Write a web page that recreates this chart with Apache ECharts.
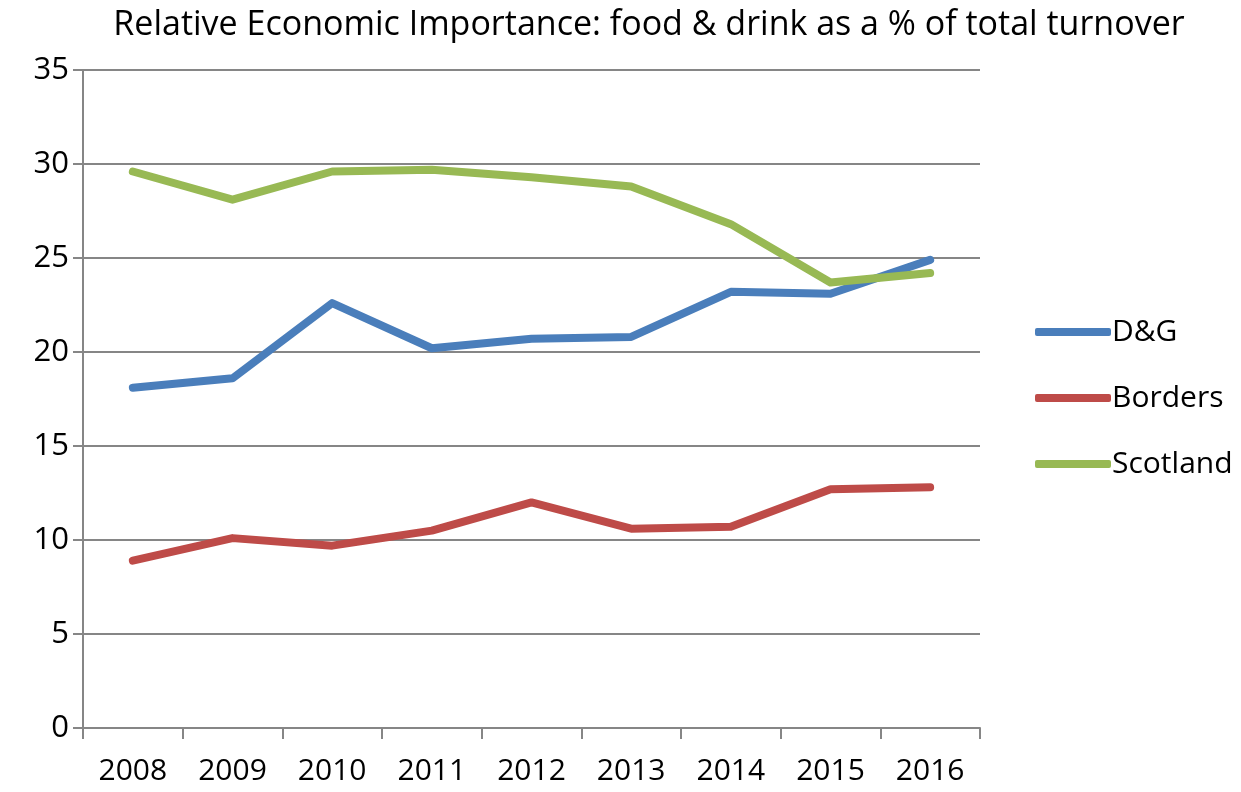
<!DOCTYPE html>
<html>
<head>
<meta charset="utf-8">
<script src="https://cdn.jsdelivr.net/npm/echarts@6/dist/echarts.min.js"></script>
<style>
  html, body { margin: 0; padding: 0; background: #fff; }
  #chart { width: 1241px; height: 792px; }
</style>
</head>
<body>
<div id="chart"></div>
<script>
var years = ["2008", "2009", "2010", "2011", "2012", "2013", "2014", "2015", "2016"];
var dg = [18.1, 18.6, 22.6, 20.2, 20.7, 20.8, 23.2, 23.1, 24.9];
var borders = [8.9, 10.1, 9.7, 10.5, 12.0, 10.6, 10.7, 12.7, 12.8];
var scotland = [29.6, 28.1, 29.6, 29.7, 29.3, 28.8, 26.8, 23.7, 24.2];

var font = "'Open Sans', sans-serif";
var gray = "#868686";

var chart = echarts.init(document.getElementById("chart"));

var option = {
  backgroundColor: "#fff",
  title: {
    text: "Relative Economic Importance: food & drink as a % of total turnover",
    left: 644,
    textAlign: "center",
    top: 3,
    textStyle: { fontFamily: font, fontSize: 34, fontWeight: "normal", color: "#000" }
  },
  legend: {
    orient: "vertical",
    left: 1030,
    top: 312,
    itemWidth: 76,
    itemHeight: 8,
    itemGap: 36,
    icon: "roundRect",
    textStyle: { fontFamily: font, fontSize: 30, color: "#000", padding: [0, 0, 0, -4] },
    data: ["D&G", "Borders", "Scotland"]
  },
  grid: { left: 83, right: 261, top: 70, bottom: 64, containLabel: false },
  xAxis: {
    type: "category",
    data: years,
    boundaryGap: true,
    axisLine: { lineStyle: { color: gray, width: 2 } },
    axisTick: { show: true, length: 11, lineStyle: { color: gray, width: 2 } },
    axisLabel: { fontFamily: font, fontSize: 30, color: "#000", margin: 28 }
  },
  yAxis: {
    type: "value",
    min: 0,
    max: 35,
    interval: 5,
    axisLine: { show: true, lineStyle: { color: gray, width: 2 } },
    axisTick: { show: true, length: 10, lineStyle: { color: gray, width: 2 } },
    splitLine: { lineStyle: { color: gray, width: 2 } },
    axisLabel: { fontFamily: font, fontSize: 31, color: "#000", margin: 14 }
  },
  series: [
    {
      name: "D&G", type: "line", data: dg, showSymbol: false,
      lineStyle: { color: "#4A7EBB", width: 8, cap: "round", join: "round" },
      itemStyle: { color: "#4A7EBB" }
    },
    {
      name: "Borders", type: "line", data: borders, showSymbol: false,
      lineStyle: { color: "#BE4B48", width: 8, cap: "round", join: "round" },
      itemStyle: { color: "#BE4B48" }
    },
    {
      name: "Scotland", type: "line", data: scotland, showSymbol: false,
      lineStyle: { color: "#98B954", width: 8, cap: "round", join: "round" },
      itemStyle: { color: "#98B954" }
    }
  ]
};

chart.setOption(option);
</script>
</body>
</html>
